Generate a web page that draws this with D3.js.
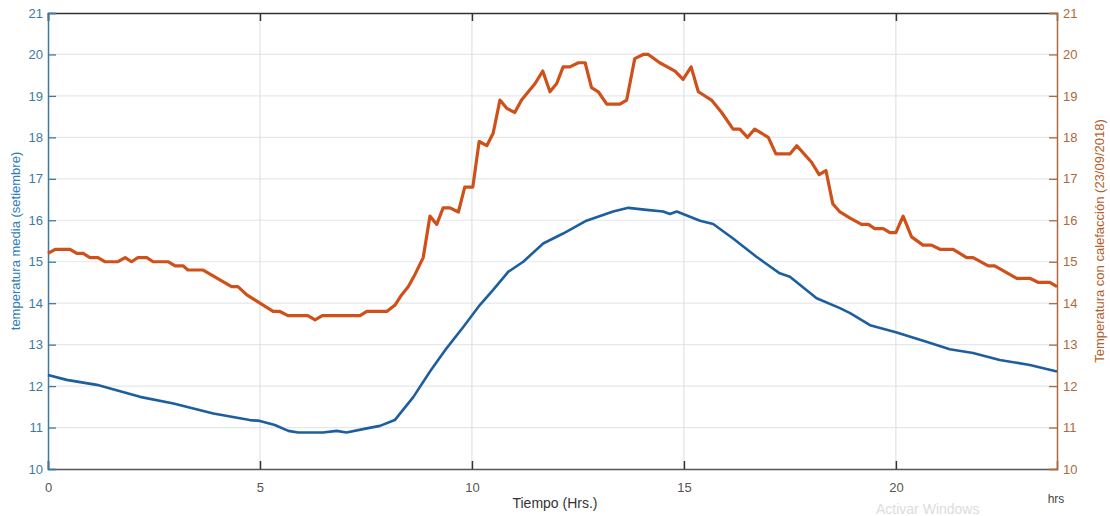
<!DOCTYPE html>
<html>
<head>
<meta charset="utf-8">
<script src="https://cdnjs.cloudflare.com/ajax/libs/d3/7.8.5/d3.min.js"></script>
<style>
  body { margin: 0; background: #fff; }
  svg { display: block; font-family: "Liberation Sans", Arial, sans-serif; }
</style>
</head>
<body>
<script>
// temperatura media (setiembre) - eje izquierdo
const hoursMedia = [0, 0.44, 1.15, 2.17, 2.96, 3.9, 4.76, 5.0, 5.35, 5.67, 5.9, 6.49, 6.81, 7.04, 7.52, 7.83,
  8.18, 8.62, 9.01, 9.4, 9.8, 10.19, 10.5, 10.86, 11.21, 11.68, 12.15, 12.7, 13.33, 13.69, 14.12, 14.51,
  14.67, 14.83, 15.38, 15.69, 16.16, 16.71, 17.26, 17.5, 18.13, 18.68, 18.92, 19.39, 20.0, 20.72, 21.27,
  21.82, 22.45, 23.16, 23.8];
const tempMedia = [12.27, 12.15, 12.03, 11.74, 11.58, 11.34, 11.18, 11.16, 11.06, 10.92, 10.88, 10.88, 10.92, 10.88, 10.98, 11.04,
  11.18, 11.74, 12.35, 12.91, 13.43, 13.96, 14.32, 14.76, 15.0, 15.44, 15.68, 15.99, 16.21, 16.3, 16.25, 16.21,
  16.15, 16.21, 15.99, 15.91, 15.56, 15.12, 14.72, 14.64, 14.12, 13.88, 13.76, 13.47, 13.3, 13.07, 12.89,
  12.8, 12.63, 12.51, 12.35];

// temperatura con calefaccion (23/09/2018) - eje derecho
const hoursCalef = [0, 0.17, 0.52, 0.68, 0.83, 0.99, 1.18, 1.34, 1.65, 1.82, 1.97, 2.12, 2.33, 2.48, 2.83, 3.0,
  3.19, 3.3, 3.66, 4.33, 4.48, 4.69, 5.31, 5.47, 5.66, 6.13, 6.3, 6.47, 7.36, 7.52, 7.99, 8.18, 8.34, 8.5,
  8.66, 8.85, 9.01, 9.17, 9.32, 9.48, 9.68, 9.83, 10.02, 10.17, 10.35, 10.5, 10.66, 10.82, 11.01, 11.17,
  11.33, 11.49, 11.67, 11.84, 12.0, 12.15, 12.31, 12.51, 12.67, 12.82, 12.98, 13.18, 13.49, 13.65, 13.84,
  14.04, 14.16, 14.43, 14.79, 14.98, 15.17, 15.34, 15.65, 15.89, 16.16, 16.32, 16.5, 16.67, 16.99, 17.17,
  17.5, 17.66, 18.01, 18.19, 18.35, 18.51, 18.68, 18.92, 19.19, 19.35, 19.5, 19.7, 19.86, 20.0, 20.17,
  20.37, 20.64, 20.84, 21.04, 21.35, 21.67, 21.82, 22.18, 22.33, 22.85, 23.16, 23.36, 23.63, 23.8];
const tempCalef = [15.2, 15.3, 15.3, 15.2, 15.2, 15.1, 15.1, 15.0, 15.0, 15.1, 15.0, 15.1, 15.1, 15.0, 15.0, 14.9,
  14.9, 14.8, 14.8, 14.4, 14.4, 14.2, 13.8, 13.8, 13.7, 13.7, 13.6, 13.7, 13.7, 13.8, 13.8, 13.95, 14.2, 14.4,
  14.7, 15.1, 16.1, 15.9, 16.3, 16.3, 16.2, 16.8, 16.8, 17.9, 17.8, 18.1, 18.9, 18.7, 18.6, 18.9,
  19.1, 19.3, 19.6, 19.1, 19.3, 19.7, 19.7, 19.8, 19.8, 19.2, 19.1, 18.8, 18.8, 18.9, 19.9,
  20.0, 20.0, 19.8, 19.6, 19.4, 19.7, 19.1, 18.9, 18.6, 18.2, 18.2, 18.0, 18.2, 18.0, 17.6,
  17.6, 17.8, 17.4, 17.1, 17.2, 16.4, 16.2, 16.05, 15.9, 15.9, 15.8, 15.8, 15.7, 15.7, 16.1,
  15.6, 15.4, 15.4, 15.3, 15.3, 15.1, 15.1, 14.9, 14.9, 14.6, 14.6, 14.5, 14.5, 14.4];

const xTicks = [0, 5, 10, 15, 20];
const yTicks = [10, 11, 12, 13, 14, 15, 16, 17, 18, 19, 20, 21];

const w = 1110, h = 516;
const mLeft = 48, mRight = 1057, mTop = 13, mBottom = 469;
const blue = "#1d5f9e", orange = "#d0501a";
const leftCol = "#3d7aa3", rightCol = "#ad6a3c";

const svg = d3.select("body").append("svg").attr("width", w).attr("height", h);

const x = d3.scaleLinear().domain([0, 23.8]).range([mLeft, mRight]);
const yL = d3.scaleLinear().domain([10, 21]).range([mBottom, mTop]);
const yR = d3.scaleLinear().domain([10, 21]).range([mBottom, mTop]);

// grid
svg.append("g").selectAll("line").data(yTicks.slice(1, -1)).join("line")
  .attr("x1", mLeft).attr("x2", mRight)
  .attr("y1", d => yL(d)).attr("y2", d => yL(d))
  .attr("stroke", "#e4e8ec").attr("stroke-width", 1.2);
svg.append("g").selectAll("line").data(xTicks.slice(1)).join("line")
  .attr("x1", d => x(d)).attr("x2", d => x(d))
  .attr("y1", mTop).attr("y2", mBottom)
  .attr("stroke", "#d9dde1").attr("stroke-width", 1);

// axes
const xAxis = d3.axisBottom(x).tickValues(xTicks).tickSize(-8).tickPadding(14);
const gx = svg.append("g").attr("transform", `translate(0,${mBottom})`).call(xAxis);
gx.select(".domain").attr("stroke", "#555").attr("stroke-width", 1.5);
gx.selectAll(".tick line").attr("stroke", "#333").attr("stroke-width", 1.5);
gx.selectAll("text").attr("fill", "#555").attr("font-size", 13);

const gxTop = svg.append("g").attr("transform", `translate(0,${mTop})`)
  .call(d3.axisTop(x).tickValues(xTicks).tickSize(-8).tickFormat(""));
gxTop.select(".domain").attr("stroke", "#333").attr("stroke-width", 1.5);
gxTop.selectAll(".tick line").attr("stroke", "#333").attr("stroke-width", 1.5);

const gyL = svg.append("g").attr("transform", `translate(${mLeft},0)`)
  .call(d3.axisLeft(yL).tickValues(yTicks).tickSize(-8).tickPadding(5));
gyL.select(".domain").attr("stroke", leftCol).attr("stroke-width", 1.5);
gyL.selectAll(".tick line").attr("stroke", leftCol).attr("stroke-width", 1.3);
gyL.selectAll("text").attr("fill", leftCol).attr("font-size", 13);

const gyR = svg.append("g").attr("transform", `translate(${mRight},0)`)
  .call(d3.axisRight(yR).tickValues(yTicks).tickSize(-8).tickPadding(6));
gyR.select(".domain").attr("stroke", rightCol).attr("stroke-width", 1.5);
gyR.selectAll(".tick line").attr("stroke", rightCol).attr("stroke-width", 1.3);
gyR.selectAll("text").attr("fill", rightCol).attr("font-size", 13);

// lines
const lineL = d3.line().x(d => x(d[0])).y(d => yL(d[1]));
const lineR = d3.line().x(d => x(d[0])).y(d => yR(d[1]));

svg.append("path").datum(d3.zip(hoursCalef, tempCalef))
  .attr("d", lineR).attr("fill", "none").attr("stroke", orange)
  .attr("stroke-width", 3.2).attr("stroke-linejoin", "round");
svg.append("path").datum(d3.zip(hoursMedia, tempMedia))
  .attr("d", lineL).attr("fill", "none").attr("stroke", blue)
  .attr("stroke-width", 2.6).attr("stroke-linejoin", "round");

// labels
svg.append("text").attr("x", 555).attr("y", 508).attr("text-anchor", "middle")
  .attr("font-size", 14).attr("fill", "#333").text("Tiempo (Hrs.)");
svg.append("text").attr("x", 1056).attr("y", 503).attr("text-anchor", "middle")
  .attr("font-size", 12).attr("fill", "#444").text("hrs");
svg.append("text").attr("transform", "translate(20,241) rotate(-90)").attr("text-anchor", "middle")
  .attr("font-size", 13).attr("fill", "#2f7db5").text("temperatura media (setiembre)");
svg.append("text").attr("transform", "translate(1104,241) rotate(-90)").attr("text-anchor", "middle")
  .attr("font-size", 13).attr("fill", "#b0602a").text("Temperatura con calefacción (23/09/2018)");

// watermark
svg.append("text").attr("x", 876).attr("y", 514).attr("font-size", 14)
  .attr("fill", "#dcdcdc").text("Activar Windows");
</script>
</body>
</html>
